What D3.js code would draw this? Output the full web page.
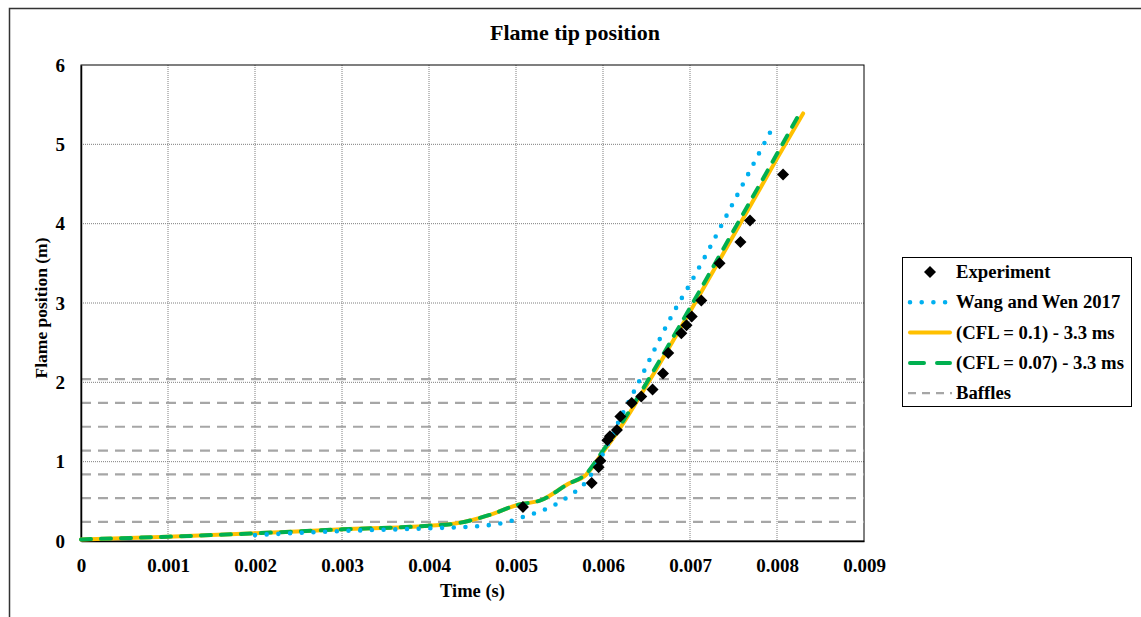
<!DOCTYPE html>
<html>
<head>
<meta charset="utf-8">
<script src="https://cdn.jsdelivr.net/npm/d3@7"></script>
<style>
  html, body { margin: 0; padding: 0; background: #fff; }
  svg text { font-family: "Liberation Serif", "Times New Roman", serif; font-weight: bold; fill: #000; }
</style>
</head>
<body>
<div id="content"></div>
<script>
// Chart size
const width = 1141;
const height = 617;

// Plot area
const margin = { left: 81, top: 65, right: 864, bottom: 541 };

// Experiment points (time s, position m)
const expTime = [0.00508, 0.00587, 0.00595, 0.00597, 0.00605, 0.00608, 0.00616, 0.00620, 0.00633,
  0.00644, 0.00657, 0.00669, 0.00675, 0.00690, 0.00696, 0.00702, 0.00713, 0.00734, 0.00758, 0.00769, 0.00807];
const expPos = [0.43, 0.73, 0.93, 1.01, 1.27, 1.32, 1.40, 1.57, 1.74,
  1.82, 1.91, 2.11, 2.37, 2.62, 2.72, 2.83, 3.03, 3.50, 3.77, 4.04, 4.62];

// Wang and Wen 2017
const wangTime = [0.002, 0.003, 0.004, 0.0046, 0.0049, 0.0051, 0.0054, 0.0056, 0.0058, 0.0060,
  0.0062, 0.0064, 0.0066, 0.0068, 0.0070, 0.0072, 0.0074, 0.0076, 0.0078, 0.00793];
const wangPos = [0.076, 0.126, 0.16, 0.19, 0.24, 0.31, 0.43, 0.56, 0.74, 1.10,
  1.55, 1.98, 2.43, 2.86, 3.24, 3.64, 4.06, 4.48, 4.90, 5.17];

// (CFL = 0.1) - 3.3 ms
const cfl1Time = [0, 0.001, 0.002, 0.003, 0.004, 0.0043, 0.0047, 0.005, 0.0053, 0.0056, 0.0058,
  0.0060, 0.0062, 0.0064, 0.0066, 0.0070, 0.0075, 0.0080, 0.0083];
const cfl1Pos = [0.02, 0.054, 0.097, 0.147, 0.193, 0.22, 0.33, 0.45, 0.52, 0.72, 0.83,
  1.12, 1.43, 1.78, 2.14, 2.89, 3.85, 4.82, 5.39];

// (CFL = 0.07) - 3.3 ms
const cfl07Time = [0, 0.001, 0.002, 0.003, 0.004, 0.0043, 0.0047, 0.005, 0.0053, 0.0056, 0.0058,
  0.0060, 0.0062, 0.0064, 0.0066, 0.0070, 0.0075, 0.0080, 0.00825];
const cfl07Pos = [0.02, 0.054, 0.097, 0.147, 0.193, 0.22, 0.33, 0.45, 0.52, 0.72, 0.84,
  1.14, 1.46, 1.81, 2.18, 2.94, 3.91, 4.88, 5.37];

// Baffle heights (m)
const baffles = [0.24, 0.54, 0.84, 1.14, 1.44, 1.74, 2.04];

// Ticks
const xTicks = [0, 0.001, 0.002, 0.003, 0.004, 0.005, 0.006, 0.007, 0.008, 0.009];
const yTicks = [0, 1, 2, 3, 4, 5, 6];

const legendLabels = ["Experiment", "Wang and Wen 2017", "(CFL = 0.1) - 3.3 ms", "(CFL = 0.07) - 3.3 ms", "Baffles"];

const zip = (a, b) => a.map((v, i) => [v, b[i]]);

const x = d3.scaleLinear().domain([0, 0.009]).range([margin.left, margin.right]);
const y = d3.scaleLinear().domain([0, 6]).range([margin.bottom, margin.top]);

const svg = d3.select("#content").append("svg")
  .attr("width", width)
  .attr("height", height);

// Chart border (cut off at right / bottom like the original)
svg.append("rect")
  .attr("x", 9.5).attr("y", 8.5)
  .attr("width", 1200).attr("height", 700)
  .attr("fill", "none").attr("stroke", "#333").attr("stroke-width", 1.5);

// Gridlines
svg.append("g").selectAll("line")
  .data(xTicks.slice(1, -1))
  .join("line")
  .attr("x1", d => x(d)).attr("x2", d => x(d))
  .attr("y1", margin.top).attr("y2", margin.bottom)
  .attr("stroke", "#7f7f7f").attr("stroke-width", 1).attr("stroke-dasharray", "1,1");

svg.append("g").selectAll("line")
  .data(yTicks.slice(1, -1))
  .join("line")
  .attr("x1", margin.left).attr("x2", margin.right)
  .attr("y1", d => y(d)).attr("y2", d => y(d))
  .attr("stroke", "#7f7f7f").attr("stroke-width", 1).attr("stroke-dasharray", "1,1");

// Plot border
svg.append("rect")
  .attr("x", margin.left).attr("y", margin.top)
  .attr("width", margin.right - margin.left).attr("height", margin.bottom - margin.top)
  .attr("fill", "none").attr("stroke", "#000").attr("stroke-width", 1);

// Baffles
svg.append("g").selectAll("line")
  .data(baffles)
  .join("line")
  .attr("x1", x(0)).attr("x2", x(0.009))
  .attr("y1", d => y(d)).attr("y2", d => y(d))
  .attr("stroke", "#a6a6a6").attr("stroke-width", 2.2).attr("stroke-dasharray", "10,7");

// Axes
const xAxis = svg.append("g")
  .attr("transform", `translate(0,${margin.bottom})`)
  .call(d3.axisBottom(x).tickValues(xTicks).tickSize(0).tickPadding(18).tickFormat(d => d === 0 ? "0" : d3.format(".3f")(d)));
const yAxis = svg.append("g")
  .attr("transform", `translate(${margin.left},0)`)
  .call(d3.axisLeft(y).tickValues(yTicks).tickSize(0).tickPadding(16).tickFormat(d3.format("d")));
[xAxis, yAxis].forEach(a => {
  a.select(".domain").attr("stroke", "#000").attr("stroke-width", 1.5);
  a.selectAll("text").style("font-size", "19px").style("font-family", "Liberation Serif, serif").style("font-weight", "bold");
});

const line = d3.line().x(d => x(d[0])).y(d => y(d[1])).curve(d3.curveMonotoneX);

// Series
svg.append("path")
  .datum(zip(cfl1Time, cfl1Pos))
  .attr("d", line)
  .attr("fill", "none").attr("stroke", "#ffc000").attr("stroke-width", 4)
  .attr("stroke-linecap", "round").attr("stroke-linejoin", "round");

svg.append("path")
  .datum(zip(cfl07Time, cfl07Pos))
  .attr("d", line)
  .attr("fill", "none").attr("stroke", "#00b050").attr("stroke-width", 4)
  .attr("stroke-dasharray", "10,10").attr("stroke-linecap", "round");

svg.append("path")
  .datum(zip(wangTime, wangPos))
  .attr("d", line)
  .attr("fill", "none").attr("stroke", "#00b0f0").attr("stroke-width", 4.6)
  .attr("stroke-dasharray", "0,11.7").attr("stroke-linecap", "round");

const diamond = d3.symbol().type(d3.symbolSquare).size(72);
svg.append("g").selectAll("path")
  .data(zip(expTime, expPos))
  .join("path")
  .attr("d", diamond)
  .attr("transform", d => `translate(${x(d[0])},${y(d[1])}) rotate(45)`)
  .attr("fill", "#000");

// Title and axis labels
svg.append("text")
  .attr("x", 575).attr("y", 40)
  .attr("text-anchor", "middle")
  .style("font-size", "22px")
  .text("Flame tip position");

svg.append("text")
  .attr("x", (margin.left + margin.right) / 2).attr("y", 597)
  .attr("text-anchor", "middle")
  .style("font-size", "18.5px")
  .text("Time (s)");

svg.append("text")
  .attr("transform", `translate(47,${(margin.top + margin.bottom) / 2 + 5}) rotate(-90)`)
  .attr("text-anchor", "middle")
  .style("font-size", "17.5px")
  .text("Flame position (m)");

// Legend
const legend = svg.append("g");
legend.append("rect")
  .attr("x", 902.5).attr("y", 257.5)
  .attr("width", 229).attr("height", 149)
  .attr("fill", "#fff").attr("stroke", "#000").attr("stroke-width", 1);

const rowY = i => 272 + i * 30.3;
const styles = [
  null,
  { stroke: "#00b0f0", width: 4.6, dash: "0,11.7", cap: "round" },
  { stroke: "#ffc000", width: 4, dash: null, cap: "round" },
  { stroke: "#00b050", width: 4, dash: "14,13", cap: "round" },
  { stroke: "#a6a6a6", width: 2.2, dash: "8,6", cap: "butt" }
];
legendLabels.forEach((label, i) => {
  const s = styles[i];
  if (s) {
    legend.append("line")
      .attr("x1", s.cap === "round" ? 910 : 908).attr("x2", s.cap === "round" ? 950 : 952)
      .attr("y1", rowY(i)).attr("y2", rowY(i))
      .attr("stroke", s.stroke).attr("stroke-width", s.width)
      .attr("stroke-dasharray", s.dash).attr("stroke-linecap", s.cap);
  } else {
    legend.append("path")
      .attr("d", diamond)
      .attr("transform", `translate(930,${rowY(i)}) rotate(45)`)
      .attr("fill", "#000");
  }
  legend.append("text")
    .attr("x", 956).attr("y", rowY(i) + 6)
    .style("font-size", "18.7px")
    .text(label);
});
</script>
</body>
</html>
